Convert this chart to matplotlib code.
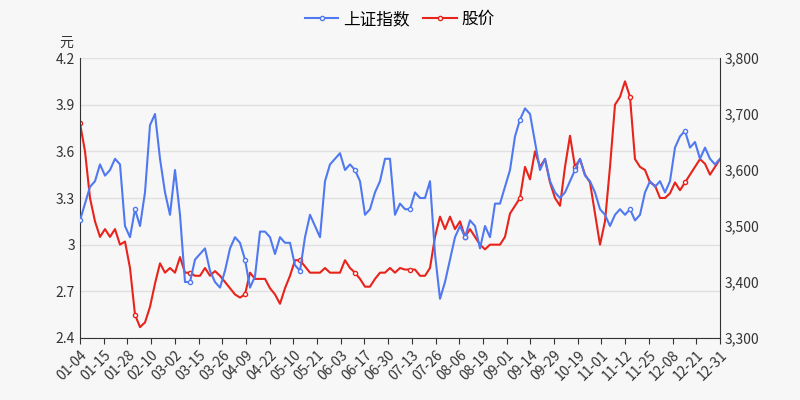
import matplotlib
matplotlib.use("Agg")
import matplotlib.pyplot as plt
import numpy as np

plt.rcParams["font.family"] = ["Noto Sans CJK SC", "DejaVu Sans"]

tick_labels = ["01-04","01-15","01-28","02-10","03-02","03-15","03-26","04-09","04-22","05-10",
               "05-21","06-03","06-17","06-30","07-13","07-26","08-06","08-19","09-01","09-14",
               "09-29","10-19","11-01","11-12","11-25","12-08","12-21","12-31"]
n_days = 243

price = [3.78,3.6,3.3,3.15,3.05,3.1,3.05,3.1,3.0,3.02,2.85,2.55,2.47,2.5,2.6,2.75,2.88,2.82,2.85,2.82,
         2.92,2.82,2.82,2.8,2.8,2.85,2.8,2.83,2.8,2.76,2.72,2.68,2.66,2.68,2.82,2.78,2.78,2.78,2.72,2.68,
         2.62,2.72,2.8,2.9,2.9,2.86,2.82,2.82,2.82,2.85,2.82,2.82,2.82,2.9,2.85,2.82,2.78,2.73,2.73,2.78,
         2.82,2.82,2.85,2.82,2.85,2.84,2.84,2.84,2.8,2.8,2.85,3.05,3.18,3.1,3.18,3.1,3.15,3.05,3.1,3.05,
         3.0,2.97,3.0,3.0,3.0,3.05,3.2,3.25,3.3,3.5,3.42,3.6,3.5,3.55,3.4,3.3,3.25,3.5,3.7,3.5,
         3.55,3.45,3.4,3.2,3.0,3.15,3.5,3.9,3.95,4.05,3.95,3.55,3.5,3.48,3.4,3.38,3.3,3.3,3.33,3.4,
         3.35,3.4,3.45,3.5,3.55,3.52,3.45,3.5,3.55]
index = [3510,3540,3570,3580,3610,3590,3600,3620,3610,3500,3480,3530,3500,3560,3680,3700,3620,3560,3520,3600,
         3520,3400,3400,3440,3450,3460,3420,3400,3390,3420,3460,3480,3470,3440,3390,3410,3490,3490,3480,3450,
         3480,3470,3470,3430,3420,3480,3520,3500,3480,3580,3610,3620,3630,3600,3610,3600,3580,3520,3530,3560,
         3580,3620,3620,3520,3540,3530,3530,3560,3550,3550,3580,3450,3370,3400,3440,3480,3500,3480,3510,3500,
         3460,3500,3480,3540,3540,3570,3600,3660,3690,3710,3700,3650,3600,3620,3580,3560,3550,3560,3580,3600,
         3620,3590,3580,3560,3530,3520,3500,3520,3530,3520,3530,3510,3520,3560,3580,3570,3580,3560,3580,3640,
         3660,3670,3640,3650,3620,3640,3620,3610,3620]

bg = "#f7f7f7"
blue = "#5079f0"
red = "#e8231b"
fig = plt.figure(figsize=(8, 4), dpi=100, facecolor=bg)
ax = fig.add_axes([0.1, 0.155, 0.8, 0.7])
ax.set_facecolor(bg)
ax2 = ax.twinx()

xp = np.linspace(0, n_days - 1, len(price))
xi = np.linspace(0, n_days - 1, len(index))
l2, = ax2.plot(xi, index, color=blue, lw=1.5, marker="o", ms=3, mfc="white", markevery=11)
l1, = ax.plot(xp, price, color=red, lw=1.5, marker="o", ms=3, mfc="white", markevery=11)

ax.set_xlim(0, n_days - 1)
ax.set_ylim(2.4, 4.2)
ax.set_yticks(np.arange(2.4, 4.21, 0.3))
ax.set_yticklabels(["2.4","2.7","3","3.3","3.6","3.9","4.2"])
ax2.set_ylim(3300, 3800)
ax2.set_yticks(range(3300, 3801, 100))
ax2.set_yticklabels([f"{v:,}" for v in range(3300, 3801, 100)])
ax.set_xticks(np.linspace(0, n_days - 1, len(tick_labels)))
ax.set_xticklabels(tick_labels, rotation=45, ha="right", rotation_mode="anchor")
ax.grid(axis="y", color="#e0e0e0", lw=1)
ax.set_axisbelow(True)
for a in (ax, ax2):
    for s in a.spines.values():
        s.set_visible(False)
    a.tick_params(colors="#666666", labelsize=10, length=0)
ax.spines["bottom"].set_visible(True); ax.spines["bottom"].set_color("#333333")
ax.spines["left"].set_visible(True); ax.spines["left"].set_color("#333333")
ax2.spines["right"].set_visible(True); ax2.spines["right"].set_color("#333333")
ax.tick_params(axis="x", length=4, color="#333333", labelcolor="#333333")
ax.tick_params(axis="y", labelcolor="#333333")
ax2.tick_params(axis="y", labelcolor="#333333")
ax.text(-0.01, 1.04, "元", transform=ax.transAxes, ha="right", fontsize=10, color="#333333")
fig.legend([l2, l1], ["上证指数", "股价"], loc="upper center", ncol=2, frameon=False,
           fontsize=12, bbox_to_anchor=(0.5, 1.01), handlelength=2, columnspacing=0.8, handletextpad=0.3)
fig.savefig("out.png", facecolor=bg)
